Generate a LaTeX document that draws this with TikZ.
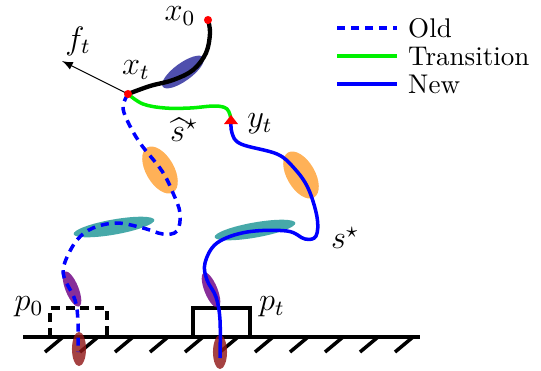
\documentclass[tikz,border=0pt]{standalone}
\usepackage{amsmath, amssymb}
\usepackage{xcolor}
\usepackage{tikz}
\usetikzlibrary{calc, shapes.geometric, positioning}

\definecolor{blobnavy}{RGB}{40,40,155}
\definecolor{bloborange}{RGB}{255,160,50}
\definecolor{blobteal}{RGB}{30,150,150}
\definecolor{blobpurple}{RGB}{110,0,130}
\definecolor{blobred}{RGB}{145,25,25}
\definecolor{transgreen}{RGB}{0,240,0}

\begin{document}
\begin{tikzpicture}[>=latex, x=0.37pt, y=-0.37pt,
    blob/.style={ellipse, inner sep=0pt, opacity=0.82},
    oldpath/.style={blue, line width=1.3pt, dashed, dash pattern=on 3pt off 2.2pt},
    newpath/.style={blue, line width=1.3pt},
    transpath/.style={transgreen, line width=1.3pt},
    lbl/.style={inner sep=1pt, font=\large}]
    \useasboundingbox (0,0) rectangle (541,370);

    % 1. Mặt đất và các gạch chéo
    \coordinate (g0) at (23,337);
    \coordinate (g1) at (420,337);
    \draw[line width=1.3pt] (g0) -- (g1);
    \foreach \x in {45,80,...,395}
      \draw[line width=1.3pt] (\x+18,337) -- ++(-18,15);

    % 2. Hai hộp p_0 (nét đứt) và p_t
    \draw[line width=1.3pt, dashed, dash pattern=on 3.3pt off 2.2pt] (50,337) -- (50,308) -- (107,308) -- (107,337);
    \draw[line width=1.3pt] (193,337) -- (193,308) -- (250,308) -- (250,337);
    \node[lbl] (p0) at (29,307) {$p_0$};
    \node[lbl] (pt) at (272,307) {$p_t$};

    % 3. Các elip
    \node[blob, fill=blobnavy, minimum width=18.5pt, minimum height=6.6pt, rotate=36] (e1) at (183,72) {};
    \node[blob, fill=bloborange, minimum width=10.4pt, minimum height=19.2pt, rotate=30] (e2) at (160,170) {};
    \node[blob, fill=blobteal, minimum width=30.3pt, minimum height=5.6pt, rotate=10] (e3) at (114,227) {};
    \node[blob, fill=blobpurple, minimum width=4.8pt, minimum height=14pt, rotate=22] (e4) at (72,289) {};
    \node[blob, fill=blobred, minimum width=5.2pt, minimum height=12.6pt] (e5) at (79,349) {};
    \node[blob, fill=bloborange, minimum width=10.4pt, minimum height=19.2pt, rotate=30] (e6) at (301,175) {};
    \node[blob, fill=blobteal, minimum width=30.3pt, minimum height=5.6pt, rotate=10] (e7) at (255,230) {};
    \node[blob, fill=blobpurple, minimum width=4.8pt, minimum height=14pt, rotate=22] (e8) at (211,290) {};
    \node[blob, fill=blobred, minimum width=5.2pt, minimum height=12.6pt] (e9) at (220,352) {};

    % 4. Các điểm x_0, x_t, y_t
    \coordinate (x0) at (208,20);
    \coordinate (xt) at (128,94);
    \coordinate (yt) at (231,119);
    \coordinate (ft) at (62,61);

    % 5. Các đường đi
    \draw[line width=1.6pt] plot[smooth, tension=0.6] coordinates
      {(x0) (210,33) (206,53) (193,70) (173,80) (150,86) (xt)};
    \draw[oldpath] plot[smooth, tension=0.6] coordinates
      {(xt) (123,106) (127,120) (140,143) (162,171) (173,193) (180,213) (177,231) (163,234)
       (143,228) (117,223) (93,228) (77,240) (65,262) (64,277) (75,300) (78,322) (78,352)};
    \draw[transpath] plot[smooth, tension=0.6] coordinates
      {(xt) (143,104) (165,108) (190,108) (215,106) (227,109) (yt)};
    \draw[newpath] plot[smooth, tension=0.6] coordinates
      {(yt) (232,133) (241,144) (277,154) (294,168) (308,188) (317,217) (316,236) (305,239)
       (287,231) (247,232) (217,243) (205,263) (207,280) (216,297) (220,320) (220,358)};

    % 6. Mũi tên lực f_t
    \draw[->, thin] (xt) -- (ft);

    % 7. Đánh dấu điểm
    \fill[red] (x0) circle (1.5pt);
    \fill[red] (xt) circle (1.5pt);
    \fill[red] ($(yt)+(-7,5)$) -- ($(yt)+(7,5)$) -- ($(yt)+(0,-4)$) -- cycle;

    % 8. Nhãn
    \node[lbl] (lx0) at (180,16) {$x_0$};
    \node[lbl] (lxt) at (136,70) {$x_t$};
    \node[lbl] (lft) at (78,41) {$f_t$};
    \node[lbl] (lyt) at (260,124) {$y_t$};
    \node[lbl] (lsh) at (184,130) {$\widehat{s}^{\star}$};
    \node[lbl] (lss) at (345,238) {$s^{\star}$};

    % 9. Chú thích
    \node[lbl, right, font=\normalsize] (kold) at (405,28) {Old};
    \node[lbl, right, font=\normalsize] (ktr) at (405,56) {Transition};
    \node[lbl, right, font=\normalsize] (knew) at (405,84) {New};
    \draw[oldpath] (337,28) -- ++(60,0);
    \draw[transpath] (337,56) -- ++(60,0);
    \draw[newpath] (337,84) -- ++(60,0);

\end{tikzpicture}
\end{document}
